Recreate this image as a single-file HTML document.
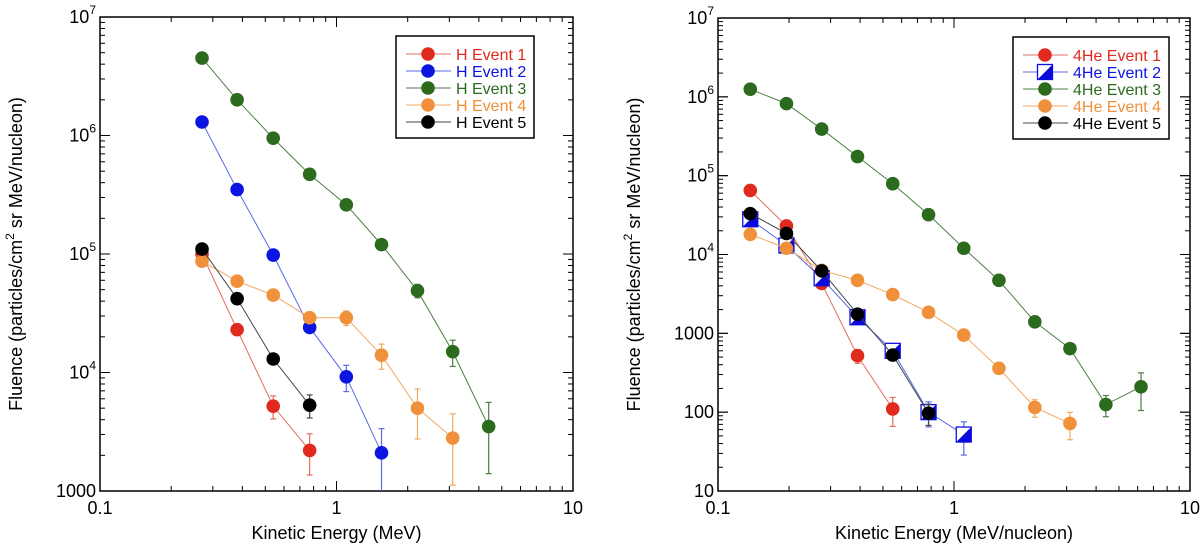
<!DOCTYPE html>
<html><head><meta charset="utf-8"><style>
body{margin:0;background:#fff;}
svg{display:block;font-family:"Liberation Sans",sans-serif;}
</style></head><body>
<svg id="c" width="1200" height="548"></svg>
<script>
const hE=[0.27,0.38,0.54,0.77,1.1,1.55,2.2,3.1,4.4];
const h1=[1.0e5,2.3e4,5.2e3,2.2e3];
const h2=[1.3e6,3.5e5,9.8e4,2.4e4,9.2e3,2.1e3];
const h3=[4.5e6,2.0e6,9.5e5,4.7e5,2.6e5,1.2e5,4.9e4,1.5e4,3.5e3];
const h4=[8.7e4,5.9e4,4.5e4,2.9e4,2.9e4,1.4e4,5.0e3,2.8e3];
const h5=[1.1e5,4.2e4,1.3e4,5.3e3];
const h1Err=[0,0,0.22,0.38];
const h2Err=[0,0,0,0,0.25,0.6];
const h3Err=[0,0,0,0,0,0,0.13,0.25,0.6];
const h4Err=[0,0,0,0,0.14,0.24,0.45,0.6];
const h5Err=[0,0,0.1,0.22];
const aE=[0.137,0.195,0.275,0.39,0.55,0.78,1.1,1.55,2.2,3.1,4.4,6.2];
const a1=[6.5e4,2.3e4,4.3e3,520,110];
const a2=[2.8e4,1.3e4,5.0e3,1.6e3,600,100,52];
const a3=[1.25e6,8.2e5,3.9e5,1.75e5,7.9e4,3.2e4,1.2e4,4.7e3,1.4e3,640,125,210];
const a4=[1.8e4,1.2e4,6.3e3,4.7e3,3.1e3,1.85e3,950,360,115,72];
const a5=[3.3e4,1.85e4,6.2e3,1.75e3,530,97];
const a1Err=[0,0,0,0.2,0.4];
const a2Err=[0,0,0,0,0,0.35,0.45];
const a3Err=[0,0,0,0,0,0,0,0,0,0,0.3,0.5];
const a4Err=[0,0,0,0,0,0,0,0,0.25,0.38];
const a5Err=[0,0,0,0,0,0.3];
const xTicks=["0.1","1","10"];
const leftY=["1000","10^4","10^5","10^6","10^7"];
const rightY=["10","100","1000","10^4","10^5","10^6","10^7"];

const NS="http://www.w3.org/2000/svg";
const svg=document.getElementById('c');
function mk(t,a,p){const e=document.createElementNS(NS,t);for(const k in a)e.setAttribute(k,a[k]);(p||svg).appendChild(e);return e;}

function panel(o){
  const g=mk('g',{});
  
  
  const X=v=>o.x0+(Math.log10(v)+1)/2*(o.x1-o.x0);
  const Y=v=>o.y1-(Math.log10(v)-o.ymin)/(o.ymax-o.ymin)*(o.y1-o.y0);
  for(let d=-1;d<1;d++)for(let m=1;m<=10;m++){const v=m*Math.pow(10,d);const x=X(v);const L=(m==1||m==10)?10:5;
    mk('line',{x1:x,x2:x,y1:o.y1,y2:o.y1-L,stroke:'#000','stroke-width':1},g);
    mk('line',{x1:x,x2:x,y1:o.y0,y2:o.y0+L,stroke:'#000','stroke-width':1},g);}
  for(let d=o.ymin;d<o.ymax;d++)for(let m=1;m<=10;m++){const v=m*Math.pow(10,d);const y=Y(v);const L=(m==1||m==10)?10:5;
    mk('line',{x1:o.x0,x2:o.x0+L,y1:y,y2:y,stroke:'#000','stroke-width':1},g);
    mk('line',{x1:o.x1,x2:o.x1-L,y1:y,y2:y,stroke:'#000','stroke-width':1},g);}
  const fr=mk('rect',{x:o.x0,y:o.y0,width:o.x1-o.x0,height:o.y1-o.y0,fill:'none',stroke:'#000','stroke-width':1.5},g);
  
  xTicks.forEach((t,i)=>{const e=mk('text',{x:X(Math.pow(10,i-1)),y:o.y1+23,'text-anchor':'middle','font-size':18},g);e.textContent=t;
    });
  o.yt.forEach((t,i)=>{const y=Y(Math.pow(10,o.ymin+i));const e=mk('text',{x:o.x0-4,y:y+6,'text-anchor':'end','font-size':18},g);
    
    if(t.indexOf('^')>0){const p=t.split('^');e.textContent=p[0];const s=mk('tspan',{'font-size':12,dy:-9},e);s.textContent=p[1];}else e.textContent=t;});
  const xt=mk('text',{x:(o.x0+o.x1)/2,y:o.y1+48,'text-anchor':'middle','font-size':18},g);xt.textContent=o.xtitle;
  
  const yc=(o.y0+o.y1)/2;const yt=mk('text',{transform:`translate(${o.ytx},${yc}) rotate(-90)`,'text-anchor':'middle','font-size':18},g);
  
  yt.appendChild(document.createTextNode('Fluence (particles/cm'));const sp=mk('tspan',{'font-size':12,dy:-8},yt);sp.textContent='2';
  const r=mk('tspan',{dy:8},yt);r.textContent=' sr MeV/nucleon)';
  o.series.forEach(s=>{
    const sg=mk('g',{},g);
    const pts=s.v.map((v,i)=>[X(o.E[i]),Y(v)]);
    mk('polyline',{points:pts.map(p=>p.join(',')).join(' '),fill:'none',stroke:s.line,'stroke-width':1},sg);
    s.v.forEach((v,i)=>{const e=s.err[i];if(e>0){const x=X(o.E[i]);const ya=Y(v*(1+e)),yb=Y(Math.max(v*(1-e),1e-9));
      mk('line',{x1:x,x2:x,y1:ya,y2:Math.min(yb,o.y1),stroke:s.line,'stroke-width':1.2},sg);
      mk('line',{x1:x-3,x2:x+3,y1:ya,y2:ya,stroke:s.line,'stroke-width':1.2},sg);
      if(yb<o.y1)mk('line',{x1:x-3,x2:x+3,y1:yb,y2:yb,stroke:s.line,'stroke-width':1.2},sg);}});
    pts.forEach(p=>marker(sg,p[0],p[1],s));
  });
  const lg=mk('g',{},g);
  mk('rect',{x:o.lx,y:o.ly,width:o.lw,height:102,fill:'#fff',stroke:'#000','stroke-width':1.5},lg);
  o.series.forEach((s,i)=>{const y=o.ly+18+i*17;
    const eg=mk('g',{},lg);
    mk('line',{x1:o.lx+10,x2:o.lx+55,y1:y,y2:y,stroke:s.line,'stroke-width':1},eg);
    marker(eg,o.lx+32,y,s);
    const t=mk('text',{x:o.lx+60,y:y+6,'font-size':16,fill:s.text},eg);t.textContent=s.label;});
}
function marker(p,x,y,s){
  if(s.sq){mk('rect',{x:x-7.5,y:y-7.5,width:15,height:15,fill:'#fff',stroke:'#1010e0','stroke-width':1.3},p);
    mk('polygon',{points:`${x-7.5},${y+7.5} ${x+7.5},${y-7.5} ${x+7.5},${y+7.5}`,fill:'#0a0adc'},p);}
  else mk('circle',{cx:x,cy:y,r:6.8,fill:s.fill},p);
}
const RED='#e02a1e',BLUE='#0b14e0',GRN='#2c6a1e',ORG='#f0903a',BLK='#000';
panel({name:'proton-fluence-chart',x0:100,x1:573,y0:17,y1:491,ymin:3,ymax:7,E:hE,yt:leftY,xtitle:'Kinetic Energy (MeV)',ytx:22,lx:396,ly:36,lw:138,
 series:[
 {id:'series-h-event-1',v:h1,err:h1Err,fill:RED,line:'#e07060',text:RED,label:'H Event 1'},
 {id:'series-h-event-2',v:h2,err:h2Err,fill:BLUE,line:'#5a6ae8',text:BLUE,label:'H Event 2'},
 {id:'series-h-event-3',v:h3,err:h3Err,fill:GRN,line:'#4e7e44',text:GRN,label:'H Event 3'},
 {id:'series-h-event-4',v:h4,err:h4Err,fill:ORG,line:'#f0a860',text:ORG,label:'H Event 4'},
 {id:'series-h-event-5',v:h5,err:h5Err,fill:BLK,line:'#444',text:BLK,label:'H Event 5'}]});
panel({name:'helium-fluence-chart',x0:718,x1:1190,y0:18,y1:491,ymin:1,ymax:7,E:aE,yt:rightY,xtitle:'Kinetic Energy (MeV/nucleon)',ytx:640,lx:1013,ly:37,lw:156,
 series:[
 {id:'series-he-event-1',v:a1,err:a1Err,fill:RED,line:'#e07060',text:RED,label:'4He Event 1'},
 {id:'series-he-event-2',v:a2,err:a2Err,fill:BLUE,line:'#5a6ae8',text:BLUE,label:'4He Event 2',sq:true},
 {id:'series-he-event-3',v:a3,err:a3Err,fill:GRN,line:'#4e7e44',text:GRN,label:'4He Event 3'},
 {id:'series-he-event-4',v:a4,err:a4Err,fill:ORG,line:'#f0a860',text:ORG,label:'4He Event 4'},
 {id:'series-he-event-5',v:a5,err:a5Err,fill:BLK,line:'#444',text:BLK,label:'4He Event 5'}]});
</script>
</body></html>
